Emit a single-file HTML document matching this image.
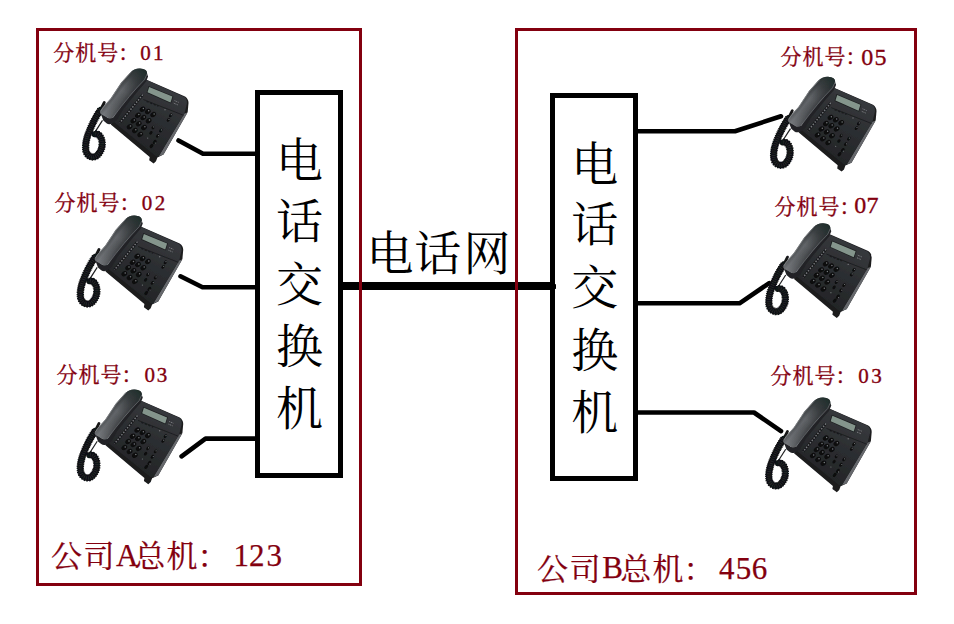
<!DOCTYPE html>
<html><head><meta charset="utf-8"><title>diagram</title>
<style>
html,body{margin:0;padding:0;background:#fff;overflow:hidden;font-family:"Liberation Sans",sans-serif}
svg{display:block}
</style></head><body>
<svg width="954" height="624" viewBox="0 0 954 624">
<defs>
<linearGradient id="hs" gradientUnits="userSpaceOnUse" x1="115.8" y1="90.6" x2="127.5" y2="99.5">
<stop offset="0" stop-color="#46494c"/><stop offset="0.3" stop-color="#63666a"/><stop offset="0.7" stop-color="#505356"/><stop offset="1" stop-color="#3a3c40"/>
</linearGradient>
<linearGradient id="ht" gradientUnits="userSpaceOnUse" x1="142" y1="67" x2="105" y2="116">
<stop offset="0" stop-color="#1e2d2a"/><stop offset="0.22" stop-color="#2c3133" stop-opacity="0.75"/><stop offset="0.5" stop-color="#3a3d40" stop-opacity="0"/><stop offset="1" stop-color="#a0a2a6" stop-opacity="0.3"/>
</linearGradient>
<filter id="sf" x="-5%" y="-5%" width="110%" height="110%"><feGaussianBlur stdDeviation="0.35"/></filter>
<linearGradient id="tf" gradientUnits="userSpaceOnUse" x1="170" y1="88" x2="140" y2="145">
<stop offset="0" stop-color="#37393d"/><stop offset="0.5" stop-color="#2c2e31"/><stop offset="1" stop-color="#242628"/>
</linearGradient>
<g id="ph" filter="url(#sf)">
<!-- cord -->
<path d="M102.5,120.4 L94,133.6" stroke="#1c1d1f" stroke-width="1.2" fill="none"/>
<path d="M104.3,102.5 L100.5,110" stroke="#151617" stroke-width="2.8" stroke-linecap="round" fill="none"/>
<path id="cd" d="M100.5,110 C96.5,115.5 92,124 88.3,133.8 C85.6,141 85.2,147 86,151 C86.9,154.8 90,157.1 93.4,157 C97,156.8 99.8,153 101.3,149.2 C102.6,145.5 102.4,140 100.4,136.9 C99,134.6 96.6,133.6 94.6,134.2" fill="none" stroke="#111213" stroke-width="6.2" stroke-linecap="round"/>
<path d="M100.5,110 C96.5,115.5 92,124 88.3,133.8 C85.6,141 85.2,147 86,151 C86.9,154.8 90,157.1 93.4,157 C97,156.8 99.8,153 101.3,149.2 C102.6,145.5 102.4,140 100.4,136.9 C99,134.6 96.6,133.6 94.6,134.2" fill="none" stroke="#111213" stroke-width="7.4" stroke-dasharray="1.15 0.75"/>
<path d="M100.5,110 C96.5,115.5 92,124 88.3,133.8 C85.6,141 85.2,147 86,151 C86.9,154.8 90,157.1 93.4,157 C97,156.8 99.8,153 101.3,149.2 C102.6,145.5 102.4,140 100.4,136.9 C99,134.6 96.6,133.6 94.6,134.2" fill="none" stroke="#2b2d30" stroke-width="3.6" stroke-dasharray="0.6 1.5"/>
<!-- body silhouette -->
<path d="M146,79.5 L185,96.5 Q188.6,99 188.5,103 L187.7,112 L163.5,154.5 L157.4,157.4 L156,161.2 L153.6,163.4 L149.2,160.2 L149.7,157.1 L110.8,124.4 L118,108 Z" fill="#1b1c1e"/>
<!-- side band -->
<path d="M187.6,112.5 L163.5,154.6 L158.8,156.2 L184.4,113.5 Z" fill="#66686c"/>
<!-- top face -->
<path d="M146,79.8 L184.3,96.9 Q187.4,99.3 186.9,103.5 L184.6,113 L158.8,156 Q157.5,157.3 155.5,155.8 L113,121.3 L125,100 Z" fill="url(#tf)"/>
<!-- separator -->
<path d="M143.3,99.5 L183.6,115.3" stroke="#1c1d1f" stroke-width="0.9" fill="none"/>
<path d="M146.6,101.4 L158.5,106.2" stroke="#191a1c" stroke-width="1.3" stroke-dasharray="2.2 1.6" fill="none"/>
<!-- lcd -->
<path d="M148.6,85.9 L173.3,96.2 L171,103.6 L146.5,92.7 Z" fill="#1d1f21"/>
<path d="M149.2,86.9 L172.4,96.6 L170.5,102.6 L147.5,92.3 Z" fill="#84958c"/>
<!-- tiny marks right of lcd -->
<path d="M174.6,100.6 L178.6,102.3 M173.8,103.2 L177.8,104.9" stroke="#8d8f92" stroke-width="0.9" stroke-dasharray="1 0.8" fill="none"/>
<!-- small button strip -->
<path d="M142.8,94.6 L119.9,122.8" stroke="#17181a" stroke-width="2.6" fill="none"/>
<path d="M142.8,94.6 L119.9,122.8" stroke="#74767a" stroke-width="1.5" stroke-dasharray="1.5 1.5" fill="none"/>
<!-- keypad -->
<g fill="#0b0c0d">
<ellipse cx="142.5" cy="109.2" rx="3.05" ry="2.35" transform="rotate(-35 142.5 109.2)"/>
<ellipse cx="147.8" cy="111.5" rx="3.05" ry="2.35" transform="rotate(-35 147.8 111.5)"/>
<ellipse cx="153.2" cy="114.6" rx="3.05" ry="2.35" transform="rotate(-35 153.2 114.6)"/>
<ellipse cx="137.9" cy="115.3" rx="3.05" ry="2.35" transform="rotate(-35 137.9 115.3)"/>
<ellipse cx="143.3" cy="117.6" rx="3.05" ry="2.35" transform="rotate(-35 143.3 117.6)"/>
<ellipse cx="148.6" cy="120.7" rx="3.05" ry="2.35" transform="rotate(-35 148.6 120.7)"/>
<ellipse cx="133.4" cy="120.7" rx="3.05" ry="2.35" transform="rotate(-35 133.4 120.7)"/>
<ellipse cx="138.7" cy="123.7" rx="3.05" ry="2.35" transform="rotate(-35 138.7 123.7)"/>
<ellipse cx="144" cy="127.5" rx="3.05" ry="2.35" transform="rotate(-35 144 127.5)"/>
<ellipse cx="129.6" cy="126.7" rx="3.05" ry="2.35" transform="rotate(-35 129.6 126.7)"/>
<ellipse cx="134.9" cy="130.5" rx="3.05" ry="2.35" transform="rotate(-35 134.9 130.5)"/>
<ellipse cx="140.2" cy="134.4" rx="3.05" ry="2.35" transform="rotate(-35 140.2 134.4)"/>
<!-- function keys -->
<ellipse cx="170.7" cy="115.3" rx="2.1" ry="1.4" transform="rotate(-50 170.7 115.3)"/>
<ellipse cx="168.4" cy="119.9" rx="2.1" ry="1.4" transform="rotate(-50 168.4 119.9)"/>
<ellipse cx="153.2" cy="127.5" rx="2" ry="1.4" transform="rotate(-50 153.2 127.5)"/>
<ellipse cx="150.9" cy="132.8" rx="2" ry="1.4" transform="rotate(-50 150.9 132.8)"/>
<ellipse cx="160.8" cy="130.5" rx="2.1" ry="1.4" transform="rotate(-50 160.8 130.5)"/>
<ellipse cx="157.7" cy="135.9" rx="2.1" ry="1.4" transform="rotate(-50 157.7 135.9)"/>
<ellipse cx="154.7" cy="142" rx="2.4" ry="1.5" transform="rotate(-50 154.7 142)"/>
<ellipse cx="151.5" cy="146" rx="2.4" ry="1.5" transform="rotate(-50 151.5 146)"/>
</g>
<g fill="#77797c">
<circle cx="165" cy="109.8" r="0.7"/><circle cx="147.7" cy="138.1" r="0.6"/><circle cx="158.6" cy="135.6" r="0.6"/><circle cx="155.3" cy="143" r="0.6"/>
<circle cx="143.4" cy="108.5" r="0.75"/><circle cx="148.7" cy="110.8" r="0.75"/><circle cx="154.1" cy="113.9" r="0.75"/>
<circle cx="138.8" cy="114.6" r="0.75"/><circle cx="144.2" cy="116.9" r="0.75"/><circle cx="149.5" cy="120" r="0.75"/>
<circle cx="134.3" cy="120" r="0.75"/><circle cx="139.6" cy="123" r="0.75"/><circle cx="144.9" cy="126.8" r="0.75"/>
<circle cx="130.5" cy="126" r="0.75"/><circle cx="135.8" cy="129.8" r="0.75"/><circle cx="141.1" cy="133.7" r="0.75"/>
<circle cx="171.3" cy="114.7" r="0.6"/><circle cx="169" cy="119.3" r="0.6"/><circle cx="153.8" cy="126.9" r="0.6"/><circle cx="161.4" cy="129.9" r="0.6"/>
</g>
<!-- handset side face -->
<path d="M147.1,74 L148.1,76.6 L146,81.8 L138.8,90.1 L131.5,99 L123.1,109.4 L116.9,120.3 L112,123.5 C110,124.5 108,124.3 106.5,123.2 L103.3,120.5 L100.2,112.3 L108,118 L113,117.5 Z" fill="#222427"/>
<!-- handset top surface -->
<path id="hst" d="M130.4,72.4 C133,69.5 137,68.3 140,68.6 C144.5,69 147.6,70.5 147.1,74 L144.5,79.7 L136.7,88 L129.4,96.4 L121,106.8 L113,117.5 C111.5,118.8 109.5,118.8 108,118 L101.3,114.3 C100,113.3 99.8,112 100.3,111 L102.3,107.8 L110.6,98.5 L121,82.8 Z" fill="url(#hs)"/>
<path d="M130.4,72.4 C133,69.5 137,68.3 140,68.6 C144.5,69 147.6,70.5 147.1,74 L144.5,79.7 L136.7,88 L129.4,96.4 L121,106.8 L113,117.5 C111.5,118.8 109.5,118.8 108,118 L101.3,114.3 C100,113.3 99.8,112 100.3,111 L102.3,107.8 L110.6,98.5 L121,82.8 Z" fill="url(#ht)"/>
<path d="M147.1,74 L144.5,79.7 L136.7,88 L129.4,96.4 L121,106.8 L113,117.5" fill="none" stroke="#6c6f72" stroke-width="0.7"/>
<path d="M131.5,71.6 L121.4,83 L111,98.7 L102.7,108 L100.6,111.3" fill="none" stroke="#8e9094" stroke-width="0.9" stroke-opacity="0.75"/>
</g>

</defs>
<title>电话网</title><desc>公司A总机：123（分机号：01、02、03）— 电话交换机 — 电话网 — 电话交换机 — 公司B总机：456（分机号：05、07、03）</desc>
<rect width="954" height="624" fill="#fff"/>
<rect x="343" y="282" width="212" height="8" fill="#000"/>
<rect x="257.5" y="92.5" width="83" height="383" fill="#fff" stroke="#000" stroke-width="5"/>
<rect x="552.5" y="95.5" width="83" height="383" fill="#fff" stroke="#000" stroke-width="5"/>
<rect x="554.5" y="284.2" width="1.5" height="4.7" fill="#000"/>
<polyline points="178.5,140.5 203,153.7 256,153.7" fill="none" stroke="#000" stroke-width="4.6" stroke-linecap="round" stroke-linejoin="round"/>
<polyline points="180.5,276.3 202.5,287.3 256,287.3" fill="none" stroke="#000" stroke-width="4.6" stroke-linecap="round" stroke-linejoin="round"/>
<polyline points="181.6,456.4 205.5,438.6 256,438.6" fill="none" stroke="#000" stroke-width="4.6" stroke-linecap="round" stroke-linejoin="round"/>
<polyline points="637,131.2 735,131.2 781,116.3" fill="none" stroke="#000" stroke-width="4.6" stroke-linecap="round" stroke-linejoin="round"/>
<polyline points="637,303.3 739.5,303.3 769.2,283.1" fill="none" stroke="#000" stroke-width="4.6" stroke-linecap="round" stroke-linejoin="round"/>
<polyline points="637,412.5 754,412.5 781,431.1" fill="none" stroke="#000" stroke-width="4.6" stroke-linecap="round" stroke-linejoin="round"/>
<rect x="37.5" y="29.5" width="323" height="555" fill="none" stroke="#83000f" stroke-width="3"/>
<rect x="516.5" y="29.5" width="399" height="564" fill="none" stroke="#83000f" stroke-width="3"/>
<g font-family="'Liberation Serif','Noto Serif CJK SC',serif" font-size="47" fill="#000" text-anchor="middle">
<text x="299.5" y="177.4">电</text>
<text x="299.5" y="237.9">话</text>
<text x="299.5" y="300.9">交</text>
<text x="299.5" y="363.2">换</text>
<text x="299.5" y="425.1">机</text>
<text x="594.7" y="180.8">电</text>
<text x="594.7" y="241.3">话</text>
<text x="594.7" y="304.3">交</text>
<text x="594.7" y="366.6">换</text>
<text x="594.7" y="428.5">机</text>
</g>
<text font-family="'Liberation Serif','Noto Serif CJK SC',serif" font-size="47" fill="#000" x="366.6 414.2 463.4" y="270.3">电话网</text>
<g font-family="'Liberation Serif','Noto Serif CJK SC',serif" font-size="21" fill="#83000f" stroke="#83000f" stroke-width="0.35">
<text x="53.3 75.3 97.3 118.3 140.3 153.1" y="59.85 59.85 59.85 59.85 60 60.2">分机号：01</text>
<text x="54.6 76.6 98.6 119.6 141.7 154.7" y="209.85 209.85 209.85 209.85 210 210.2">分机号：02</text>
<text x="56.4 78.4 100.4 121.4 144.6 156.7" y="382.15 382.15 382.15 382.15 382.3 382.3">分机号：03</text>
<text x="780.6 802.6 824.6 845.6 861.3 874.4" y="64.35 64.35 64.35 64.35 64.77 64.77">分机号：<tspan font-size="24">05</tspan></text>
<text x="774.6 796.6 818.6 839.6 854.3 866.5" y="214.27 214.27 214.27 214.27 212.7 212.9">分机号：<tspan font-size="24">07</tspan></text>
<text x="770.5 792.5 814.5 835.5 858.3 871.3" y="383.16 383.16 383.16 383.16 382.8 382.8">分机号：03</text>
</g>
<g font-family="'Liberation Serif','Noto Serif CJK SC',serif" font-size="31" fill="#83000f" stroke="#83000f" stroke-width="0.25">
<text x="50.9 83.4 116.1 134.2 166.5 197.5 233.5 248.9 266.6" y="567.4 567.4 565.5 567.4 567.4 567.4 565.8 565.8 565.9">公司A总机：123</text>
<text x="536.9 569.4 602.3 620.2 652.5 683.5 719.1 735.7 751.7" y="580.1 580.1 578.4 580.1 580.1 580.1 579 578.9 578.9">公司B总机：456</text>
</g>
<use href="#ph" x="0" y="0"/><use href="#ph" x="-5.299999999999997" y="147"/><use href="#ph" x="-5.299999999999997" y="320.9"/><use href="#ph" x="688" y="8.200000000000003"/><use href="#ph" x="683.2" y="154.6"/><use href="#ph" x="683.2" y="328.9"/>
</svg>
</body></html>
